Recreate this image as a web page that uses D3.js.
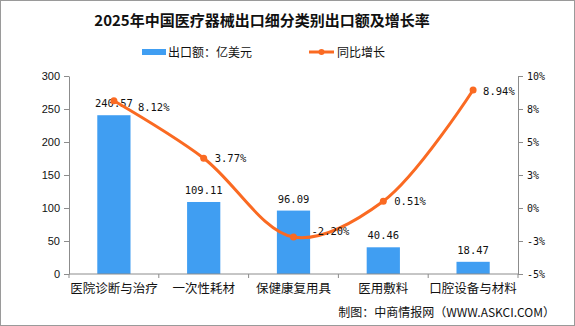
<!DOCTYPE html>
<html><head><meta charset="utf-8">
<script src="https://cdn.jsdelivr.net/npm/d3@7"></script>
<style>
body{margin:0;background:#fff;}
svg{display:block;}
text{font-family:"Liberation Sans","Noto Sans CJK SC",sans-serif;}
</style></head>
<body><svg id="c" width="575" height="326"></svg>
<script>
const categories = ["医院诊断与治疗","一次性耗材","保健康复用具","医用敷料","口腔设备与材料"];
const exportValues = [240.57,109.11,96.09,40.46,18.47];
const growthRates = [8.12,3.77,-2.20,0.51,8.94];
const leftTicks = [0,50,100,150,200,250,300];
const rightTicks = [-5,-2.5,0,2.5,5,7.5,10];
const title = "2025年中国医疗器械出口细分类别出口额及增长率";
const legendLabels = ["出口额：亿美元","同比增长"];
const sourceText = "制图：中商情报网（WWW.ASKCI.COM）";

const W=575,H=326;
const m={l:69,r:57,t:76,b:52};
const svg=d3.select("#c");
const blue="#409EF2", orange="#FA6A22", axisCol="#8c8c8c";
const cjk='"Noto Sans CJK SC",sans-serif';
const mono='"DejaVu Sans Mono","Liberation Mono",monospace';

svg.append("rect").attr("x",0.5).attr("y",0.5).attr("width",W-1).attr("height",H-1)
  .attr("fill","#fff").attr("stroke","#9a9a9a");

const x=d3.scaleBand().domain(categories).range([m.l,W-m.r]).paddingInner(0.63).paddingOuter(0.315);
const xb=d3.scaleBand().domain(categories).range([m.l,W-m.r]);
const yL=d3.scaleLinear().domain([0,300]).range([H-m.b,m.t]);
const yR=d3.scaleLinear().domain([-5,10]).range([H-m.b,m.t]);

// title
svg.append("text").attr("x",262).attr("y",26).attr("text-anchor","middle")
  .style("font-family",cjk).style("font-weight","bold").style("font-size","15px").attr("fill","#111").text(title);

// legend
svg.append("rect").attr("x",142).attr("y",49).attr("width",24).attr("height",6).attr("fill",blue);
svg.append("text").attr("x",168).attr("y",57).style("font-family",cjk).style("font-size","12px").attr("fill","#111").text(legendLabels[0]);
svg.append("line").attr("x1",309).attr("x2",334).attr("y1",52).attr("y2",52).attr("stroke",orange).attr("stroke-width",3);
svg.append("circle").attr("cx",321.5).attr("cy",52).attr("r",3).attr("fill",orange);
svg.append("text").attr("x",337).attr("y",57).style("font-family",cjk).style("font-size","12px").attr("fill","#111").text(legendLabels[1]);

// axes
const gL=svg.append("g").attr("transform",`translate(${m.l},0)`)
  .call(d3.axisLeft(yL).tickValues(leftTicks).tickSize(5).tickSizeOuter(0).tickPadding(4));
const gR=svg.append("g").attr("transform",`translate(${W-m.r},0)`)
  .call(d3.axisRight(yR).tickValues(rightTicks).tickSize(5).tickSizeOuter(0).tickPadding(4)
    .tickFormat(d=>d.toFixed(0).replace("-","−").replace("−","-")+"%"));
[gL,gR].forEach(g=>{
  g.select(".domain").attr("stroke",axisCol);
  g.selectAll(".tick line").attr("stroke",axisCol);
  g.selectAll(".tick text").attr("fill","#111").style("font-size","11px").style("font-family",'"Liberation Sans",sans-serif');
});
gR.selectAll(".tick text").style("font-family",mono).style("font-size","10px");

// bars
svg.append("g").selectAll("rect").data(exportValues).join("rect")
  .attr("x",(d,i)=>x(categories[i])).attr("width",x.bandwidth())
  .attr("y",d=>yL(d)).attr("height",d=>yL(0)-yL(d)).attr("fill",blue);

// x axis
const gX=svg.append("g").attr("transform",`translate(0,${H-m.b})`);
gX.append("line").attr("x1",m.l).attr("x2",W-m.r).attr("stroke",axisCol);
const bounds=categories.map(c=>xb(c)).concat([W-m.r]);
gX.selectAll("line.t").data(bounds).join("line").attr("class","t")
  .attr("x1",d=>d).attr("x2",d=>d).attr("y1",0).attr("y2",4).attr("stroke",axisCol);
gX.selectAll("text").data(categories).join("text")
  .attr("x",d=>xb(d)+xb.bandwidth()/2).attr("y",19).attr("text-anchor","middle")
  .style("font-family",cjk).style("font-size","12.5px").attr("fill","#111").text(d=>d);

// bar labels
svg.append("g").selectAll("text").data(exportValues).join("text")
  .attr("x",(d,i)=>xb(categories[i])+xb.bandwidth()/2).attr("y",d=>yL(d)-8)
  .attr("text-anchor","middle").style("font-family",mono).style("font-size","10.5px").attr("fill","#111")
  .text(d=>d.toFixed(2));

// line
const pts=growthRates.map((g,i)=>[xb(categories[i])+xb.bandwidth()/2,yR(g)]);
svg.append("path").attr("d",d3.line().curve(d3.curveCatmullRom.alpha(0.5))(pts))
  .attr("fill","none").attr("stroke",orange).attr("stroke-width",3);
svg.append("g").selectAll("circle").data(pts).join("circle")
  .attr("cx",d=>d[0]).attr("cy",d=>d[1]).attr("r",3.5).attr("fill",orange);

// line labels (nudges)
const nudge=[[24,10],[11,4],[18,-2],[11,4],[10,5]];
svg.append("g").selectAll("text").data(growthRates).join("text")
  .attr("x",(d,i)=>pts[i][0]+nudge[i][0]).attr("y",(d,i)=>pts[i][1]+nudge[i][1])
  .style("font-family",mono).style("font-size","10.5px").attr("fill","#111")
  .text(d=>d.toFixed(2)+"%");

// source
svg.append("text").attr("x",555).attr("y",317).attr("text-anchor","end")
  .style("font-family",cjk).style("font-size","12px").attr("fill","#111").text(sourceText);
</script></body></html>
